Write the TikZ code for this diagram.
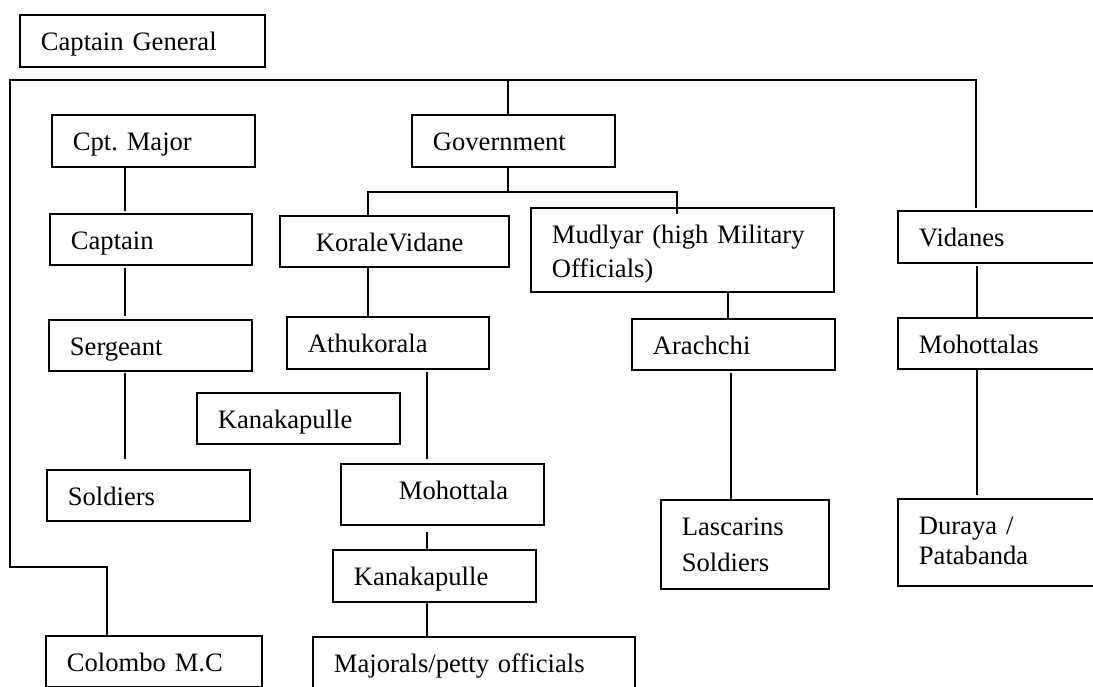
\documentclass[tikz,border=0pt]{standalone}
\usepackage{fontspec}
\setmainfont{Liberation Serif}
\usetikzlibrary{calc}
\tikzset{
  bx/.style={draw, line width=1.8pt, anchor=north west, inner xsep=21pt, inner ysep=0pt,
    align=left, text height=36pt, font=\fontsize{26.6}{34}\selectfont\frenchspacing},
  conn/.style={line width=2.2pt},
}
\begin{document}
\begin{tikzpicture}[x=1pt,y=-1pt]
\useasboundingbox (0,0) rectangle (1093,686);
\clip (0,0) rectangle (1093,686);
% boxes
\node[bx, text width=203pt, text depth=16pt] (cg) at (19,14) {Captain General};
\node[bx, text width=161pt, text depth=16pt] (cpt) at (51,114) {Cpt. Major};
\node[bx, text width=160pt, text depth=15pt] (captain) at (49,213) {Captain};
\node[bx, text width=161pt, text depth=15pt] (serg) at (48,319) {Sergeant};
\node[bx, text width=161pt, text depth=15pt] (sold) at (46,469) {Soldiers};
\node[bx, text width=174pt, text depth=15pt] (colombo) at (45,635) {Colombo M.C};
\node[bx, text width=161pt, text depth=16pt] (gov) at (411,114) {Government};
\node[bx, text width=187pt, text depth=15pt] (korale) at (279,215) {\hspace*{15pt}KoraleVidane};
\node[bx, text width=261pt, text depth=48pt] (mud) at (530,207) {Mudlyar (high Military\\Officials)};
\node[bx, text width=160pt, text depth=16pt] (athu) at (286,316) {Athukorala};
\node[bx, text width=161pt, text depth=15pt] (kana1) at (196,392) {Kanakapulle};
\node[bx, text width=161pt, text depth=25pt] (moho) at (340,463) {\hspace*{37pt}Mohottala};
\node[bx, text width=161pt, text depth=16pt] (kana2) at (332,549) {Kanakapulle};
\node[bx, text width=280pt, text depth=16pt] (major) at (312,636) {Majorals/petty officials};
\node[bx, text width=161pt, text depth=15pt] (arach) at (631,318) {Arachchi};
\node[bx, text width=126pt, text depth=53pt, font=\fontsize{26.6}{36}\selectfont] (lasc) at (660,499) {Lascarins\\Soldiers};
\node[bx, text width=168pt, text depth=16pt] (vid) at (897,210) {Vidanes};
\node[bx, text width=168pt, text depth=15pt] (mohs) at (897,317) {Mohottalas};
\node[bx, text width=168pt, text depth=51pt, font=\fontsize{26.6}{30}\selectfont] (dur) at (897,498) {Duraya /\\Patabanda};
% bus coordinates
\coordinate (busL) at (10,80);
\coordinate (busR) at (976,80);
\coordinate (busG) at (508,80);
\coordinate (turn) at (10,567);
\coordinate (gj) at (508,192);
% main bus
\draw[conn] ($(vid.north west)+(79,-2)$) -- (busR) -- (busL) -- (turn) -| ($(colombo.north west)+(62,0)$);
\draw[conn] (busG) -- (busG |- gov.north);
% government branches
\draw[conn] (gj |- gov.south) -- (gj);
\draw[conn] ($(korale.north west)+(89,0)$) |- (gj) -| ($(mud.north west)+(147,7)$);
% left column
\draw[conn] ($(cpt.south west)+(74,0)$) -- ($(captain.north west)+(76,-2)$);
\draw[conn] ($(captain.south west)+(76,2)$) -- ($(serg.north west)+(77,-3)$);
\draw[conn] ($(serg.south west)+(77,1)$) -- ($(sold.north west)+(79,-10)$);
% middle column
\draw[conn] ($(korale.south west)+(89,0)$) -- ($(athu.north west)+(82,0)$);
\draw[conn] ($(athu.south west)+(141,2)$) -- ($(moho.north west)+(87,-4)$);
\draw[conn] ($(moho.south west)+(87,6)$) -- ($(kana2.north west)+(95,0)$);
\draw[conn] ($(kana2.south west)+(95,0)$) -- ($(major.north west)+(115,0)$);
% Mudlyar column
\draw[conn] ($(mud.south west)+(198,0)$) -- ($(arach.north west)+(97,0)$);
\draw[conn] ($(arach.south west)+(100,2)$) -- ($(lasc.north west)+(71,0)$);
% Vidanes column
\draw[conn] ($(vid.south west)+(80,2)$) -- ($(mohs.north west)+(80,0)$);
\draw[conn] ($(mohs.south west)+(80,0)$) -- ($(dur.north west)+(80,-3)$);
\end{tikzpicture}
\end{document}
